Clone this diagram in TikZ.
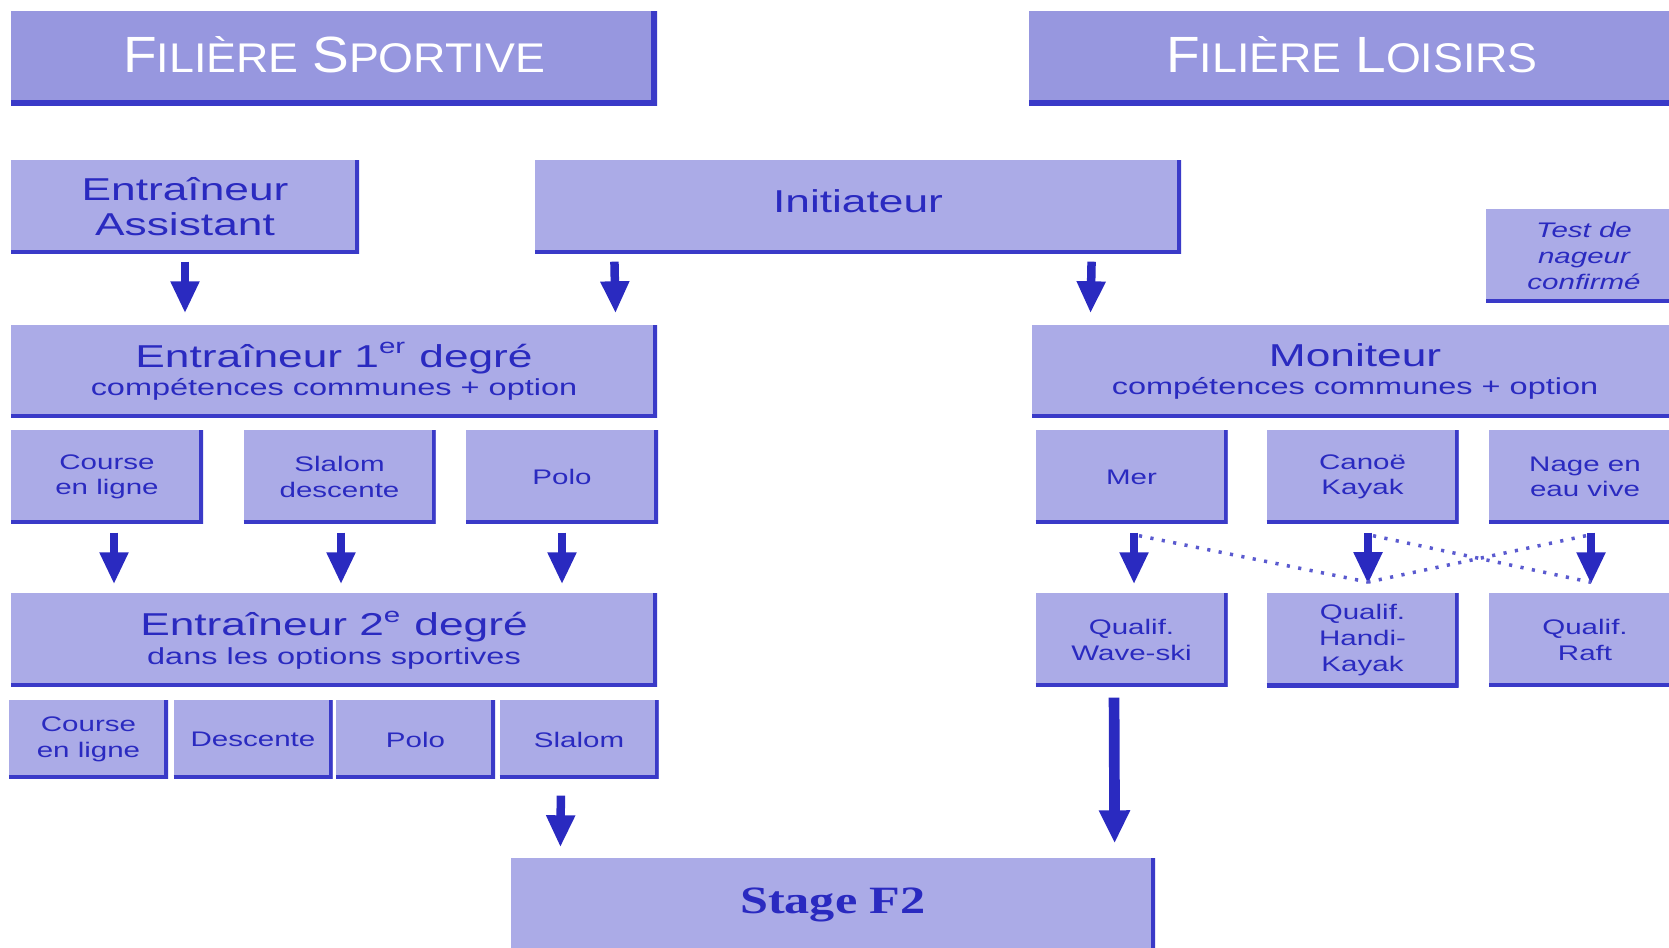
\documentclass[tikz,border=0pt]{standalone}
\usepackage{fontspec}
\setmainfont{Liberation Sans}
\newfontfamily\headfont{Liberation Sans}[FakeStretch=1.08]
\newfontfamily\boxfont{Liberation Sans}[FakeStretch=1.4]
\newfontfamily\stagefont{Liberation Serif}[FakeStretch=1.3]
\usetikzlibrary{arrows.meta}

\definecolor{boxfill}{HTML}{ABABE7}
\definecolor{hdrfill}{HTML}{9797DF}
\definecolor{inkblue}{HTML}{2A2AC0}
\definecolor{rimblue}{HTML}{3A3AC8}
\definecolor{dotblue}{HTML}{5A5ACF}

\newcommand{\ffHead}[2]{{\fontsize{14.5}{17}\selectfont #1}{\fontsize{11.8}{14}\selectfont #2}}
\newcommand{\ffTitle}{\boxfont\fontsize{9}{10}\selectfont}
\newcommand{\ffSub}{\boxfont\fontsize{6.6}{8}\selectfont}
\newcommand{\ffCell}{\boxfont\fontsize{6}{7.3}\selectfont}

\tikzset{
  rimmed/.style={path picture={\draw[rimblue, line width=#1]
      (path picture bounding box.south west) -- (path picture bounding box.south east)
      -- (path picture bounding box.north east);}},
  hdr/.style={fill=hdrfill, text=white, minimum width=6.46cm, minimum height=0.95cm,
    text depth=0.08cm, font=\headfont\fontsize{13}{15}\selectfont, rimmed=0.12cm},
  band/.style={fill=boxfill, text=inkblue, minimum width=6.46cm, minimum height=0.94cm,
    align=center, font=\ffTitle, rimmed=0.08cm},
  cell/.style={fill=boxfill, text=inkblue, minimum width=1.92cm, minimum height=0.94cm,
    align=center, font=\ffCell, rimmed=0.08cm},
  tab/.style={cell, minimum width=1.59cm, minimum height=0.79cm},
  flow/.style={draw=inkblue, line width=0.085cm, -{Triangle[length=0.32cm,width=0.27cm]},
    shorten <=0.08cm, shorten >=0.08cm},
  crossdots/.style={dotblue, line width=1pt, dash pattern=on 0.9pt off 2.4pt}
}

\begin{document}
\begin{tikzpicture}
  \useasboundingbox (0,0) rectangle (16.69,-9.48);
  \clip (0,0) rectangle (16.69,-9.48);
  % headers
  \node[hdr] (sport) at (3.34,-0.585) {\ffHead{F}{ILIÈRE} \ffHead{S}{PORTIVE}};
  \node[hdr] (loisirs) at (13.52,-0.585) {\ffHead{F}{ILIÈRE} \ffHead{L}{OISIRS}};
  % first level
  \node[band, minimum width=3.48cm] (assist) at (1.85,-2.07) {Entraîneur\\Assistant};
  \node[band, text depth=0.12cm] (init) at (8.58,-2.07) {Initiateur};
  \node[cell, minimum width=1.96cm, font=\ffCell\itshape] (test) at (15.84,-2.56) {Test de\\nageur\\confirmé};
  % degree 1 / moniteur
  \node[band, minimum height=0.93cm] (deg1) at (3.34,-3.715)
    {Entraîneur 1\textsuperscript{er} degré\\[-2pt]{\ffSub compétences communes + option}};
  \node[band, minimum height=0.93cm] (moniteur) at (13.55,-3.715)
    {Moniteur\\[-2pt]{\ffSub compétences communes + option}};
  % options
  \node[cell] (course) at (1.07,-4.77) {Course\\en ligne};
  \node[cell] (slalom) at (3.395,-4.77) {Slalom\\descente};
  \node[cell] (polo) at (5.62,-4.77) {Polo};
  \node[cell] (mer) at (11.315,-4.77) {Mer};
  \node[cell] (canoe) at (13.625,-4.77) {Canoë\\Kayak};
  \node[cell] (nage) at (15.85,-4.77) {Nage en\\eau vive};
  % degree 2 / qualifications
  \node[band] (deg2) at (3.34,-6.40)
    {Entraîneur 2\textsuperscript{e} degré\\[-2pt]{\ffSub dans les options sportives}};
  \node[cell] (wave) at (11.315,-6.40) {Qualif.\\Wave-ski};
  \node[cell] (handi) at (13.625,-6.40) {Qualif.\\Handi-\\Kayak};
  \node[cell] (raft) at (15.85,-6.40) {Qualif.\\Raft};
  % sport tabs
  \node[tab] (tcourse) at (0.885,-7.395) {Course\\en ligne};
  \node[tab] (tdesc) at (2.53,-7.395) {Descente};
  \node[tab] (tpolo) at (4.155,-7.395) {Polo};
  \node[tab] (tslalom) at (5.79,-7.395) {Slalom};
  % stage
  \node[band, minimum width=6.44cm, font=\stagefont\bfseries\fontsize{11}{13}\selectfont] (stage) at (8.33,-9.05) {Stage F2};

  % arrows
  \draw[flow, shorten <=0.07cm, shorten >=0.11cm] (assist.south) -- (assist.south |- deg1.north);
  \draw[flow, shorten <=0.07cm, shorten >=0.11cm] ([xshift=0.8cm]init.south west) -- ([xshift=-0.42cm]deg1.north east);
  \draw[flow, shorten <=0.07cm, shorten >=0.11cm] ([xshift=-0.9cm]init.south east) -- ([xshift=0.59cm]moniteur.north west);
  \foreach \a/\b/\dx in {course/deg2/0.07, slalom/deg2/0.015, polo/deg2/0, mer/wave/0.025, canoe/handi/0.055, nage/raft/0.06}
    \draw[flow] ([xshift=\dx cm]\a.south) coordinate (s-\a) -- (s-\a |- \b.north) coordinate (t-\a);
  \draw[flow, shorten <=0.16cm, shorten >=0.1cm] ([xshift=-0.18cm]tslalom.south) -- ([xshift=0.5cm]stage.north west);
  \draw[flow, line width=0.107cm, -{Triangle[length=0.33cm,width=0.29cm]}, shorten <=0.1cm, shorten >=0.14cm]
    ([xshift=-0.175cm]wave.south) -- ([xshift=-0.41cm]stage.north east);

  % crossing options
  \draw[crossdots] ([shift={(0.05,-0.11)}]s-mer) -- ([yshift=0.1cm]t-canoe);
  \draw[crossdots] ([shift={(0.05,-0.11)}]s-canoe) -- ([yshift=0.1cm]t-nage);
  \draw[crossdots] ([shift={(-0.05,-0.11)}]s-nage) -- ([yshift=0.1cm]t-canoe);
\end{tikzpicture}
\end{document}
